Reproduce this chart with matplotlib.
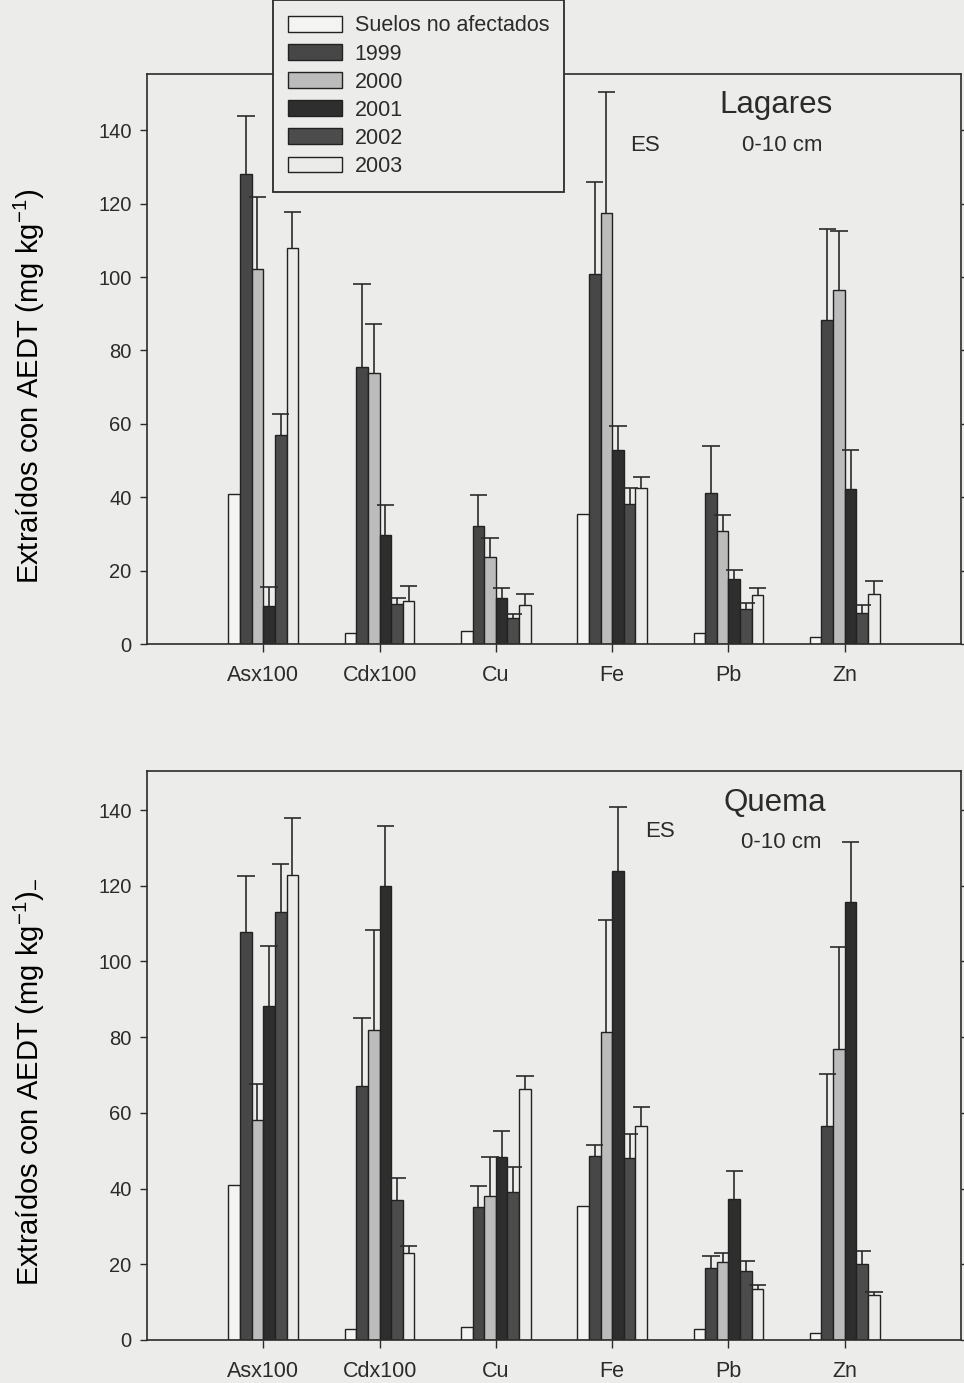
import matplotlib
matplotlib.use('Agg')
import matplotlib.pyplot as plt
import numpy as np

plt.rcParams['font.family'] = ['Liberation Sans', 'DejaVu Sans']
plt.rcParams['mathtext.default'] = 'regular'
plt.rcParams['text.color'] = '#2b2b2b'
plt.rcParams['axes.edgecolor'] = '#2b2b2b'
plt.rcParams['xtick.color'] = '#2b2b2b'
plt.rcParams['ytick.color'] = '#2b2b2b'

PAPER = '#ececea'

metals = ['Asx100', 'Cdx100', 'Cu', 'Fe', 'Pb', 'Zn']
series_names = ['Suelos no afectados', '1999', '2000', '2001', '2002', '2003']
series_colors = ['#f4f4f2', '#474747', '#bcbcbc', '#2e2e2e', '#4c4c4c', '#ebebe9']

# Lagares (top panel)
lag_unaff = [41.0, 3.0, 3.5, 35.5, 3.0, 1.8]
lag_1999 = [128.0, 75.5, 32.3, 100.8, 41.2, 88.2]
lag_2000 = [102.3, 73.8, 23.8, 117.5, 30.8, 96.5]
lag_2001 = [10.5, 29.6, 12.6, 53.0, 17.6, 42.2]
lag_2002 = [57.0, 11.0, 7.0, 38.3, 9.6, 8.5]
lag_2003 = [107.8, 11.8, 10.7, 42.5, 13.4, 13.7]
lag_se_1999 = [16.0, 22.5, 8.3, 25.2, 12.8, 24.8]
lag_se_2000 = [19.5, 13.3, 5.2, 32.9, 4.5, 16.0]
lag_se_2001 = [5.1, 8.2, 2.6, 6.3, 2.6, 10.6]
lag_se_2002 = [5.8, 1.6, 1.2, 4.3, 1.6, 2.1]
lag_se_2003 = [9.9, 4.0, 2.9, 3.1, 2.0, 3.5]

# Quema (bottom panel)
que_unaff = [41.0, 3.0, 3.5, 35.5, 3.0, 1.8]
que_1999 = [107.8, 67.0, 35.1, 48.5, 19.0, 56.5]
que_2000 = [58.1, 81.9, 38.0, 81.3, 20.6, 76.8]
que_2001 = [88.1, 119.8, 48.3, 123.8, 37.3, 115.8]
que_2002 = [113.0, 37.1, 39.2, 48.2, 18.3, 20.1]
que_2003 = [122.9, 22.9, 66.3, 56.6, 13.4, 11.8]
que_se_1999 = [14.7, 18.0, 5.6, 3.0, 3.1, 13.7]
que_se_2000 = [9.4, 26.5, 10.4, 29.7, 2.3, 27.0]
que_se_2001 = [15.9, 16.1, 6.9, 17.0, 7.3, 15.7]
que_se_2002 = [12.8, 5.8, 6.4, 6.2, 2.5, 3.5]
que_se_2003 = [14.9, 1.9, 3.5, 5.0, 1.0, 0.9]

BAR_W = 0.1
CAP_HALF = 0.075
YLABEL = 'Extraídos con AEDT (mg kg$^{-1}$)'


def draw_panel(ax, values, errors, ytop, site, es_pos, depth_pos, site_pos, ylabel):
    x = np.arange(1, len(metals) + 1)
    handles = []
    for i, (vals, col) in enumerate(zip(values, series_colors)):
        xs = x + (i - 2.5) * BAR_W
        h = ax.bar(xs, vals, BAR_W, color=col, edgecolor='#222222', linewidth=1.0,
                   label=series_names[i], zorder=2)
        handles.append(h)
        if errors[i] is not None:
            tops = np.array(vals) + np.array(errors[i])
            # only the upper half of the error bar, like the original
            ax.vlines(xs, vals, tops, color='#2b2b2b', linewidth=1.2, zorder=3)
            ax.hlines(tops, xs - CAP_HALF, xs + CAP_HALF, color='#2b2b2b', linewidth=1.2, zorder=3)
    ax.set_xlim(0, 7)
    ax.set_ylim(0, ytop)
    ax.set_xticks(x)
    ax.set_xticklabels(metals, fontsize=15.5)
    ax.set_yticks(np.arange(0, 141, 20))
    ax.tick_params(axis='y', direction='out', length=5, width=1, labelsize=14.5, pad=6,
                   right=True, labelright=False)
    ax.tick_params(axis='x', direction='out', length=6, width=1, pad=9)
    for sp in ax.spines.values():
        sp.set_linewidth(1.2)
    ax.set_facecolor(PAPER)
    ax.set_ylabel(ylabel, fontsize=21)
    ax.yaxis.set_label_coords(-0.123, 0.453)
    ax.text(site_pos[0], site_pos[1], site, transform=ax.transAxes, fontsize=22.5,
            ha='center', va='center')
    ax.text(es_pos[0], es_pos[1], 'ES', transform=ax.transAxes, fontsize=16,
            ha='center', va='center')
    ax.text(depth_pos[0], depth_pos[1], '0-10 cm', transform=ax.transAxes, fontsize=16,
            ha='center', va='center')
    return handles


fig = plt.figure(figsize=(9.64, 13.83), dpi=100, facecolor=PAPER)

ax_top = fig.add_axes([0.1525, 0.5343, 0.8444, 0.4121])
handles = draw_panel(ax_top,
                     [lag_unaff, lag_1999, lag_2000, lag_2001, lag_2002, lag_2003],
                     [None, lag_se_1999, lag_se_2000, lag_se_2001, lag_se_2002, lag_se_2003],
                     155.3, 'Lagares', (0.612, 0.875), (0.780, 0.875), (0.773, 0.946), YLABEL)

ax_bot = fig.add_axes([0.1525, 0.0311, 0.8444, 0.4114])
draw_panel(ax_bot,
           [que_unaff, que_1999, que_2000, que_2001, que_2002, que_2003],
           [None, que_se_1999, que_se_2000, que_se_2001, que_se_2002, que_se_2003],
           150.3, 'Quema', (0.630, 0.893), (0.779, 0.875), (0.771, 0.944), YLABEL + '$_{-}$')

leg = fig.legend(handles=handles, loc='lower left', bbox_to_anchor=(273 / 964, 1 - 192 / 1383),
                 fontsize=15.5, frameon=True, fancybox=False, framealpha=1, edgecolor='#2b2b2b',
                 facecolor=PAPER, handlelength=2.5, handleheight=0.75, handletextpad=0.6,
                 labelspacing=0.33, borderpad=0.7, borderaxespad=0)
leg.get_frame().set_linewidth(1.3)

fig.savefig('out.png', dpi=100, facecolor=PAPER)
